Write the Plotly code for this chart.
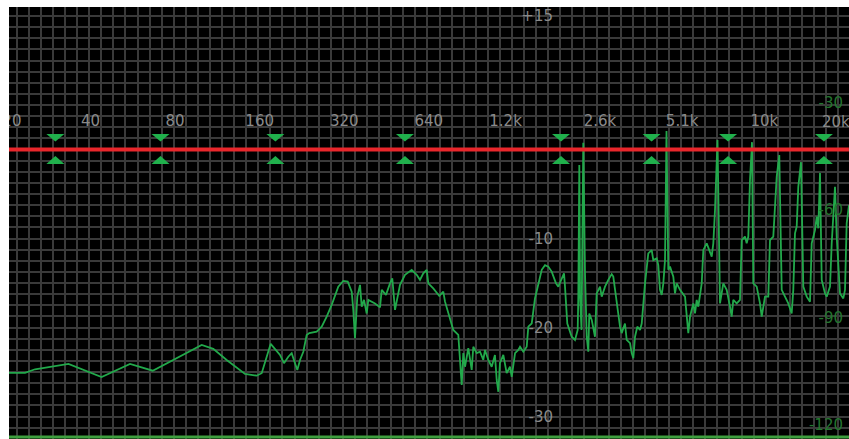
import math
import plotly.graph_objects as go

# Spectrum analyser reading: frequency (Hz) and level (dB, right-hand scale)
spec_freq = [20.5, 23.4, 25.4, 27.9, 30.3, 33.4, 43.8, 55.3, 66.6, 81.1,
             99.5, 109.4, 122.1, 141.9, 156.1, 162.7, 175.1, 189.0, 195.3, 202.3,
             208.0, 213.7, 217.8, 222.7, 228.8, 235.2, 240.3, 255.3, 266.0, 277.1,
             288.7, 304.7, 317.5, 329.2, 340.1, 344.6, 349.4, 356.1, 364.1, 369.2,
             376.2, 384.6, 389.7, 411.7, 428.9, 434.9, 450.4, 465.5, 474.3, 485.0,
             491.8, 505.3, 526.4, 556.1, 579.4, 595.2, 611.5, 628.8, 637.1, 663.7,
             697.2, 720.4, 730.6, 761.1, 781.9, 814.7, 826.1, 837.7, 848.8, 860.7,
             884.2, 909.2, 921.2, 947.3, 973.2, 1000, 1014, 1042, 1071, 1100,
             1116, 1131, 1146, 1178, 1211, 1244, 1262, 1297, 1332, 1351,
             1388, 1427, 1446, 1487, 1527, 1569, 1614, 1658, 1703, 1751,
             1814, 1849, 1901, 1937, 1953, 1990, 2063, 2120, 2167, 2178,
             2196, 2209, 2236, 2269, 2301, 2333, 2364, 2383, 2431, 2463,
             2497, 2532, 2602, 2638, 2711, 2785, 2863, 2901, 2942, 3023,
             3065, 3108, 3193, 3238, 3327, 3373, 3418, 3466, 3532, 3611,
             3662, 3762, 3865, 3974, 4027, 4141, 4195, 4254, 4314, 4371,
             4432, 4487, 4553, 4617, 4744, 4810, 4877, 5011, 5221, 5364,
             5439, 5588, 5667, 5746, 5822, 5987, 6066, 6237, 6408, 6498,
             6584, 6676, 6814, 6955, 7145, 7347, 7548, 7654, 7755, 7975,
             8194, 8308, 8536, 8656, 8771, 8893, 9040, 9137, 9395, 9653,
             9788, 10056, 10332, 10477, 10764, 11067, 11306, 11531, 11847, 12171,
             12514, 12680, 12858, 13039, 13211, 13507, 13764, 14153, 14541, 14745,
             15149, 15362, 15565, 15783, 16004, 16445, 16676, 17131, 17372, 17847,
             18097, 18594, 19102, 19370, 19640, 20014]
spec_db = [-105.5, -105.5, -104.5, -104.0, -103.5, -103.0, -106.7, -103.0, -104.9, -101.4,
           -97.7, -98.8, -101.9, -105.8, -106.3, -105.6, -97.4, -100.5, -102.8, -101.0,
           -100.0, -102.8, -104.7, -101.9, -99.6, -94.9, -94.4, -94.0, -92.6, -89.8,
           -86.5, -81.4, -79.8, -80.0, -82.8, -87.9, -95.8, -84.2, -80.9, -87.0,
           -85.1, -88.9, -85.1, -86.1, -87.2, -82.3, -83.7, -80.5, -79.1, -87.9,
           -85.6, -80.9, -78.1, -76.7, -78.1, -79.5, -77.7, -76.7, -80.5, -81.9,
           -84.0, -82.8, -85.6, -90.3, -93.5, -94.9, -101.9, -108.9, -100.0, -103.8,
           -98.6, -104.7, -98.2, -100.0, -99.6, -101.9, -99.1, -101.9, -103.8, -100.5,
           -107.5, -110.8, -102.8, -100.5, -105.6, -103.8, -106.6, -100.0, -99.1, -98.2,
           -99.6, -98.2, -92.6, -91.7, -84.7, -80.9, -76.7, -75.4, -75.8, -77.2,
           -80.5, -81.4, -79.1, -77.7, -81.4, -91.7, -95.4, -96.3, -93.5, -84.2,
           -47.4, -84.2, -93.5, -41.2, -77.7, -95.4, -99.6, -88.9, -90.7, -93.5,
           -95.4, -83.3, -81.4, -84.2, -81.4, -79.5, -77.9, -78.6, -82.3, -87.9,
           -92.6, -94.4, -91.7, -96.3, -97.2, -100.0, -101.4, -95.4, -92.6, -93.5,
           -91.7, -80.5, -72.1, -71.2, -74.0, -73.5, -75.4, -82.3, -83.7, -80.5,
           -74.0, -37.9, -76.7, -75.8, -78.6, -83.3, -80.5, -82.3, -84.2, -94.4,
           -89.8, -86.1, -88.9, -85.1, -87.0, -80.5, -71.2, -69.3, -72.1, -73.0,
           -69.3, -60.0, -40.4, -86.1, -80.5, -82.3, -87.0, -89.8, -85.1, -86.1,
           -85.1, -68.4, -67.4, -69.3, -67.4, -51.6, -41.0, -80.5, -81.4, -86.1,
           -89.8, -84.2, -84.2, -68.4, -67.4, -50.7, -44.6, -82.3, -84.2, -86.1,
           -88.9, -82.3, -66.5, -64.6, -53.5, -46.6, -81.4, -84.2, -85.6, -69.3,
           -65.6, -61.8, -65.1, -49.6, -79.5, -83.3, -84.2, -81.4, -69.3, -53.5,
           -67.4, -83.3, -84.7, -82.3, -63.7, -58.6]

# EQ bands: centre frequency (Hz) and gain (dB, left-hand scale)
band_freq = [30, 71, 182, 526, 1890, 3970, 7430, 16300]
band_gain = [0, 0, 0, 0, 0, 0, 0, 0]
eq_edge_freq = [20, 20000]

# Axis ticks and labels
freq_ticks = [40, 80, 160, 320, 640, 1200, 2600, 5100, 10000]
freq_labels = ["40", "80", "160", "320", "640", "1.2k", "2.6k", "5.1k", "10k"]
low_tick, low_label = [20], ["20"]
high_tick, high_label = [20000], ["20k"]
eq_ticks = [15, -10, -20, -30]
eq_labels = ["+15", "-10", "-20", "-30"]
spec_ticks = [-30, -60, -90, -120]
spec_labels = ["-30", "-60", "-90", "-120"]

W, H = 849, 439
FREQ_RANGE = [1.28003, 4.30137]
EQ_RANGE = [-32.528, 16.798]
SPEC_RANGE = [-124.0, -1.258]

GRID = "#3a3a3a"
TRACE_GREEN = "#22a94b"
HANDLE_GREEN = "#20b04c"
RED = "#e8262b"
LABEL_GRAY = "#8a8a8a"
LABEL_GREEN = "#24752f"
FONT = "DejaVu Sans"

fig = go.Figure()

# spectrum on the main subplot
fig.add_trace(go.Scatter(x=spec_freq, y=spec_db, mode="lines",
                         line=dict(color=TRACE_GREEN, width=1.8),
                         xaxis="x", yaxis="y", hoverinfo="skip"))

# flat EQ response drawn over the spectrum
eq_x = [eq_edge_freq[0]] + band_freq + [eq_edge_freq[1]]
eq_y = [0] + band_gain + [0]
fig.add_trace(go.Scatter(x=eq_x, y=eq_y, mode="lines",
                         line=dict(color=RED, width=4),
                         xaxis="x", yaxis="y2", hoverinfo="skip"))

# carriers for the grid axes and the low-edge label axis
for xa, ya in [("x2", "y3"), ("x3", "y")]:
    fig.add_trace(go.Scatter(x=[], y=[], xaxis=xa, yaxis=ya, hoverinfo="skip"))

label_y = (H - 129) / H
tick_font = dict(family=FONT, size=15, color=LABEL_GRAY)

common_x = dict(type="log", range=FREQ_RANGE, showgrid=False, zeroline=False,
                showline=False, ticks="", ticklen=0, anchor="free",
                position=label_y, side="top", tickfont=tick_font,
                ticklabeloverflow="allow", tickmode="array")

shapes = [
    # left and top white frame
    dict(type="rect", xref="paper", yref="paper", x0=-0.02, x1=9 / W, y0=-0.02, y1=1.02,
         fillcolor="white", line=dict(width=0), layer="above"),
    dict(type="rect", xref="paper", yref="paper", x0=-0.02, x1=1.02, y0=(H - 7) / H, y1=1.02,
         fillcolor="white", line=dict(width=0), layer="above"),
    # bottom green rule
    dict(type="line", xref="paper", yref="paper", x0=9 / W, x1=1, y0=2 / H, y1=2 / H,
         line=dict(color="#3e9e3e", width=3), layer="above"),
]
# band handles: a down-arrow above and an up-arrow below the EQ line
for f, g in zip(band_freq, band_gain):
    shapes.append(dict(type="path", xref="x", yref="y2", xsizemode="pixel", ysizemode="pixel",
                       xanchor=f, yanchor=g, path="M-9,15.5 L9,15.5 L0,8 Z",
                       fillcolor=HANDLE_GREEN, line=dict(width=0), layer="above"))
    shapes.append(dict(type="path", xref="x", yref="y2", xsizemode="pixel", ysizemode="pixel",
                       xanchor=f, yanchor=g, path="M-9,-14.5 L9,-14.5 L0,-6.5 Z",
                       fillcolor=HANDLE_GREEN, line=dict(width=0), layer="above"))

# the top-edge frequency label sits at 20 kHz, pulled in to stay on the panel
annotations = [dict(x=math.log10(high_tick[0]), xref="x", y=label_y, yref="paper",
                    text=high_label[0], showarrow=False, xanchor="center",
                    yanchor="bottom", xshift=-13, yshift=-4, font=tick_font)]

fig.update_layout(
    width=W, height=H,
    margin=dict(l=0, r=0, t=0, b=0, pad=0),
    paper_bgcolor="white", plot_bgcolor="black",
    showlegend=False, hovermode=False,
    xaxis=dict(domain=[0, 1], tickvals=freq_ticks, ticktext=freq_labels, **common_x),
    xaxis3=dict(overlaying="x", tickvals=low_tick, ticktext=low_label,
                ticklabelshift=6, **common_x),
    xaxis2=dict(overlaying="x", range=[0, W], tick0=16.7, dtick=12.08,
                showgrid=True, gridcolor=GRID, gridwidth=1.6, zeroline=False,
                showticklabels=False, ticks="", anchor="y3"),
    yaxis=dict(domain=[0, 1], range=SPEC_RANGE, side="right", anchor="x",
               tickmode="array", tickvals=spec_ticks, ticktext=spec_labels,
               ticklabelposition="inside", ticklabelstandoff=3, ticks="",
               showgrid=False, zeroline=False, showline=False,
               tickfont=dict(family=FONT, size=15, color=LABEL_GREEN)),
    yaxis2=dict(overlaying="y", range=EQ_RANGE, anchor="free", position=553 / W,
                side="left", tickmode="array", tickvals=eq_ticks, ticktext=eq_labels,
                ticks="", ticklen=0, showgrid=False, zeroline=False, showline=False,
                tickfont=tick_font),
    yaxis3=dict(overlaying="y", range=EQ_RANGE, tick0=15, dtick=1.25,
                showgrid=True, gridcolor=GRID, gridwidth=1.6, zeroline=False,
                showticklabels=False, ticks="", anchor="x2"),
    shapes=shapes,
    annotations=annotations,
)

fig.write_html("out.html", config={"displayModeBar": False})
